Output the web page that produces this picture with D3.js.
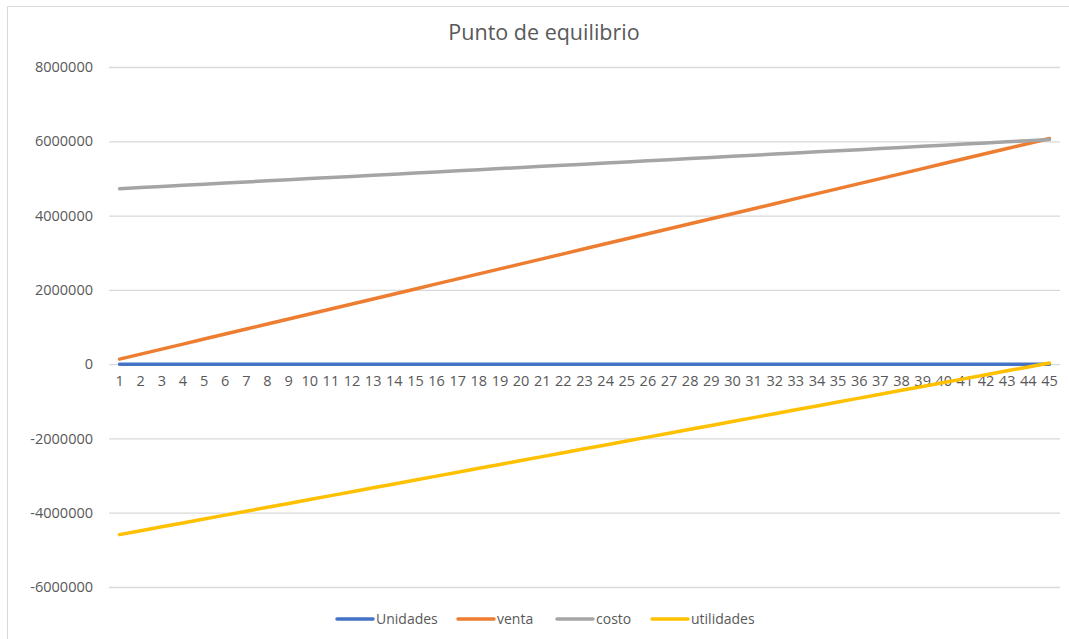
<!DOCTYPE html>
<html>
<head>
<meta charset="utf-8">
<script src="https://cdn.jsdelivr.net/npm/d3@7"></script>
<style>
  body { margin: 0; background: #fff; }
  text { font-family: "Open Sans", "Noto Sans", sans-serif; fill: #595959; }
</style>
</head>
<body>
<script>
const categories = ["1","2","3","4","5","6","7","8","9","10","11","12","13","14","15","16","17","18","19","20","21","22","23","24","25","26","27","28","29","30","31","32","33","34","35","36","37","38","39","40","41","42","43","44","45"];
const unidades = [1,2,3,4,5,6,7,8,9,10,11,12,13,14,15,16,17,18,19,20,21,22,23,24,25,26,27,28,29,30,31,32,33,34,35,36,37,38,39,40,41,42,43,44,45];
const venta = [135000,270000,405000,540000,675000,810000,945000,1080000,1215000,1350000,1485000,1620000,1755000,1890000,2025000,2160000,2295000,2430000,2565000,2700000,2835000,2970000,3105000,3240000,3375000,3510000,3645000,3780000,3915000,4050000,4185000,4320000,4455000,4590000,4725000,4860000,4995000,5130000,5265000,5400000,5535000,5670000,5805000,5940000,6075000];
const costo = [4725000,4755000,4785000,4815000,4845000,4875000,4905000,4935000,4965000,4995000,5025000,5055000,5085000,5115000,5145000,5175000,5205000,5235000,5265000,5295000,5325000,5355000,5385000,5415000,5445000,5475000,5505000,5535000,5565000,5595000,5625000,5655000,5685000,5715000,5745000,5775000,5805000,5835000,5865000,5895000,5925000,5955000,5985000,6015000,6045000];
const utilidades = [-4590000,-4485000,-4380000,-4275000,-4170000,-4065000,-3960000,-3855000,-3750000,-3645000,-3540000,-3435000,-3330000,-3225000,-3120000,-3015000,-2910000,-2805000,-2700000,-2595000,-2490000,-2385000,-2280000,-2175000,-2070000,-1965000,-1860000,-1755000,-1650000,-1545000,-1440000,-1335000,-1230000,-1125000,-1020000,-915000,-810000,-705000,-600000,-495000,-390000,-285000,-180000,-75000,30000];
const yTicks = [-6000000,-4000000,-2000000,0,2000000,4000000,6000000,8000000];

const seriesNames = ["Unidades","venta","costo","utilidades"];
const seriesValues = [unidades, venta, costo, utilidades];
const colors = ["#4472C4","#ED7D31","#A5A5A5","#FFC000"];

let W = 1069, H = 639;
let plot = {left: 109, right: 1060, top: 67, bottom: 587};

let svg = d3.select("body").append("svg")
  .attr("width", W)
  .attr("height", H);

// chart border (only top/left visible in the crop)
svg.append("line").attr("x1", 7.5).attr("x2", 7.5).attr("y1", 6.5).attr("y2", H)
  .attr("stroke", "#d9d9d9");
svg.append("line").attr("x1", 7.5).attr("x2", W).attr("y1", 6.5).attr("y2", 6.5)
  .attr("stroke", "#d9d9d9");

svg.append("text")
  .attr("x", 544).attr("y", 40)
  .attr("text-anchor", "middle")
  .style("font-size", "21.5px")
  .text("Punto de equilibrio");

let xScale = d3.scaleBand().domain(categories).range([plot.left, plot.right]);
let yScale = d3.scaleLinear().domain([-6000000, 8000000]).range([plot.bottom, plot.top]);

// gridlines, plain hyphen for negatives like the original
let yAxis = d3.axisLeft(yScale).tickValues(yTicks).tickFormat(function(d){ return String(d); })
  .tickSize(-(plot.right - plot.left)).tickPadding(16);

let gy = svg.append("g")
  .attr("transform", "translate(" + plot.left + ",0)")
  .call(yAxis);
gy.select(".domain").remove();
gy.selectAll(".tick line").attr("stroke", "#d9d9d9").attr("stroke-width", 1.3);
gy.selectAll(".tick text").style("font-size", "14.5px").attr("fill", "#595959");

// category labels just below zero line
let xAxis = d3.axisBottom(xScale).tickSize(0).tickPadding(12);
let gx = svg.append("g")
  .attr("transform", "translate(0," + yScale(0) + ")")
  .call(xAxis);
gx.select(".domain").remove();
gx.selectAll(".tick text").style("font-size", "14.5px").attr("fill", "#595959");

let line = d3.line()
  .x(function(d, i){ return xScale(categories[i]) + xScale.bandwidth() / 2; })
  .y(function(d){ return yScale(d); });

seriesValues.forEach(function(vals, k){
  svg.append("path")
    .datum(vals)
    .attr("fill", "none")
    .attr("stroke", colors[k])
    .attr("stroke-width", 3.5)
    .attr("stroke-linecap", "round")
    .attr("stroke-linejoin", "round")
    .attr("d", line);
});

// legend
let legendX = [337, 458, 557, 652];
let legend = svg.append("g");
seriesNames.forEach(function(name, k){
  legend.append("line")
    .attr("x1", legendX[k]).attr("x2", legendX[k] + 36)
    .attr("y1", 619).attr("y2", 619)
    .attr("stroke", colors[k])
    .attr("stroke-width", 3.5)
    .attr("stroke-linecap", "round");
  legend.append("text")
    .attr("x", legendX[k] + 39).attr("y", 619)
    .attr("dy", "0.35em")
    .style("font-size", "14px")
    .text(name);
});
</script>
</body>
</html>
